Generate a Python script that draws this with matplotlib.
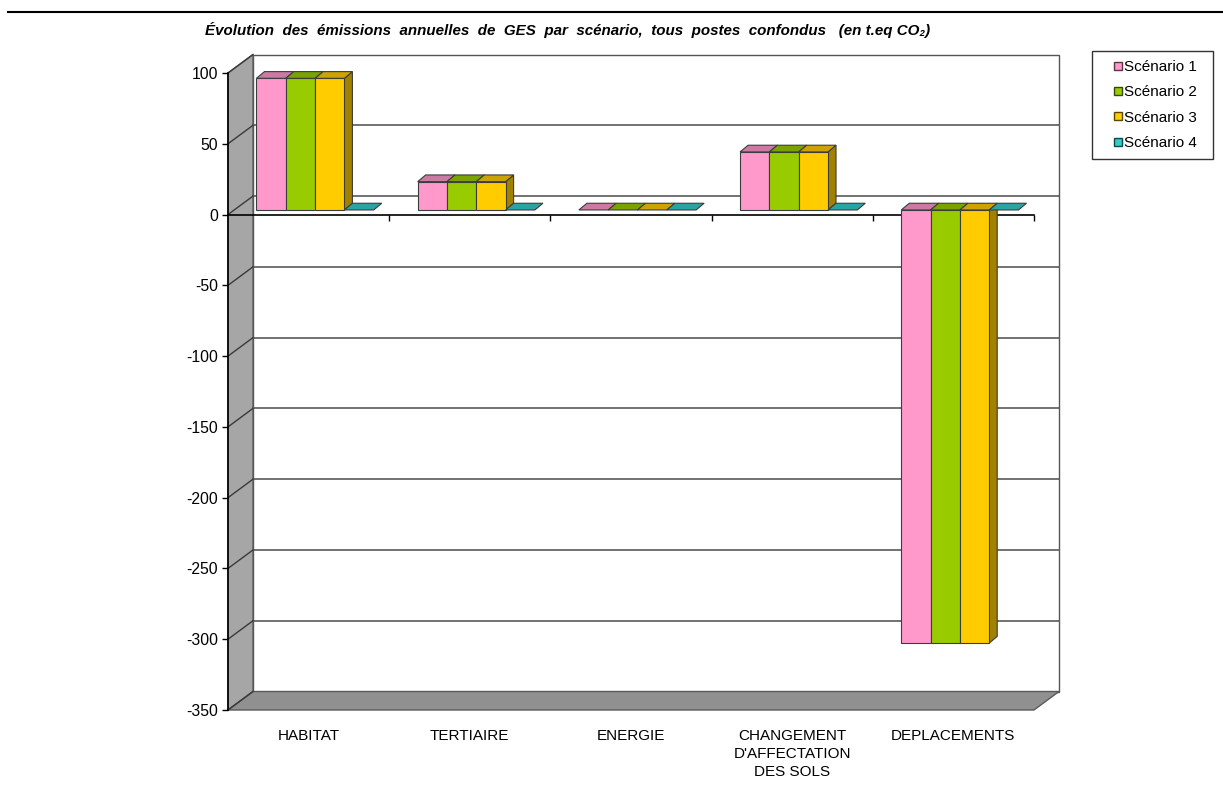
import numpy as np
import matplotlib
matplotlib.use("Agg")
import matplotlib.pyplot as plt
from matplotlib.patches import Polygon
from matplotlib.lines import Line2D
from matplotlib.transforms import IdentityTransform, offset_copy
from matplotlib.colors import to_rgb

# ---- data -------------------------------------------------------------
categories = ["HABITAT", "TERTIAIRE", "ENERGIE",
              "CHANGEMENT\nD'AFFECTATION\nDES SOLS", "DEPLACEMENTS"]
series_names = ["Scénario 1", "Scénario 2", "Scénario 3", "Scénario 4"]
scenario_1 = [93, 20, 0, 41, -306]
scenario_2 = [93, 20, 0, 41, -306]
scenario_3 = [93, 20, 0, 41, -306]
scenario_4 = [0, 0, 0, 0, 0]
y_ticks = [100, 50, 0, -50, -100, -150, -200, -250, -300, -350]
title = ("Évolution  des  émissions  annuelles  de  GES  par  scénario,  "
         "tous  postes  confondus   (en t.eq CO₂)")

series = [scenario_1, scenario_2, scenario_3, scenario_4]
colors = ["#FF99CC", "#99CC00", "#FFCC00", "#33CCCC"]

plt.rcParams["font.family"] = ["Liberation Sans", "DejaVu Sans"]
FS = 11

# ---- figure & axes ----------------------------------------------------
W, H = 1223, 796
fig = plt.figure(figsize=(W / 100, H / 100), dpi=100)
fig.patch.set_facecolor("white")
ax = fig.add_axes([228 / W, (H - 710) / H, 806 / W, 637 / H])
ax.set_xlim(0, len(categories))
ax.set_ylim(min(y_ticks), max(y_ticks))
ax.autoscale(False)
ax.patch.set_visible(False)

# oblique depth vectors (display pixels, y up)
WALL = np.array([25.0, 18.5])
BAR_FRONT = np.array([6.5, 4.6])
BAR_DEPTH = np.array([8.0, 6.7])


def px(x, v, shift=(0.0, 0.0)):
    return ax.transData.transform((x, v)) + np.asarray(shift)


def face(pts, fc, ec, lw=0.8, z=3):
    ax.add_patch(Polygon(np.array(pts), closed=True, facecolor=fc,
                         edgecolor=ec, linewidth=lw,
                         transform=IdentityTransform(), clip_on=False,
                         zorder=z))


def segment(p, q, color, lw=1.0, z=1.2):
    ax.add_line(Line2D([p[0], q[0]], [p[1], q[1]], color=color, lw=lw,
                       transform=IdentityTransform(), clip_on=False,
                       zorder=z))


def shade(c, f):
    return tuple(np.array(to_rgb(c)) * f)


top, bottom = max(y_ticks), min(y_ticks)
ncat = len(categories)

# back wall
face([px(0, top, WALL), px(ncat, top, WALL),
      px(ncat, bottom, WALL), px(0, bottom, WALL)],
     "white", "#555555", lw=1.0, z=1)
# gridlines on the back wall
for t in y_ticks[1:-1]:
    segment(px(0, t, WALL), px(ncat, t, WALL), "#5a5a5a", lw=1.2)
# side wall
face([px(0, top), px(0, top, WALL), px(0, bottom, WALL), px(0, bottom)],
     "#a6a6a6", "#5a5a5a", lw=1.0, z=1.1)
# floor
face([px(0, bottom), px(0, bottom, WALL),
      px(ncat, bottom, WALL), px(ncat, bottom)],
     "#909090", "#5a5a5a", lw=1.0, z=1.1)
# diagonals across the side wall
for t in y_ticks:
    segment(px(0, t), px(0, t, WALL), "#3a3a3a", lw=1.0, z=1.3)

# bars
bar_w = 1 / 5.5
for j, (vals, c) in enumerate(zip(series, colors)):
    for i, v in enumerate(vals):
        x0 = i + 0.75 * bar_w + j * bar_w
        x1 = x0 + bar_w
        vt = max(v, 0)
        back = BAR_FRONT + BAR_DEPTH
        if v != 0:
            face([px(x1, 0, BAR_FRONT), px(x1, v, BAR_FRONT),
                  px(x1, v, back), px(x1, 0, back)],
                 shade(c, 0.63), "#3c3c3c", z=3 + j * 0.1)
            face([px(x0, 0, BAR_FRONT), px(x1, 0, BAR_FRONT),
                  px(x1, v, BAR_FRONT), px(x0, v, BAR_FRONT)],
                 c, "#3c3c3c", z=3.02 + j * 0.1)
        face([px(x0, vt, BAR_FRONT), px(x1, vt, BAR_FRONT),
              px(x1, vt, back), px(x0, vt, back)],
             shade(c, 0.8), "#3c3c3c", z=3.04 + j * 0.1)

# axes styling
for s in ("top", "right"):
    ax.spines[s].set_visible(False)
ax.spines["bottom"].set_position(("data", 0))
ax.spines["bottom"].set_linewidth(1.2)
ax.spines["left"].set_linewidth(1.2)
ax.set_xticks(range(1, ncat + 1))
ax.set_xticklabels([])
ax.tick_params(axis="x", direction="out", length=4.5, width=1.0)
ax.set_yticks(y_ticks)
ax.set_yticklabels([str(t) for t in y_ticks])
ax.tick_params(axis="y", direction="out", length=4, width=1.0, pad=3,
               labelsize=11.3)

label_tr = offset_copy(ax.transData, fig=fig, y=-19, units="dots")
for i, name in enumerate(categories):
    ax.text(i + 0.5, bottom, name, ha="center", va="top", fontsize=FS,
            linespacing=1.37, transform=label_tr)

# title & top rule
fig.text(568 / W, 1 - 30 / H, title, ha="center", va="center",
         fontsize=10.9, fontweight="bold", fontstyle="italic")
fig.add_artist(Line2D([8 / W, 1.0], [1 - 12 / H] * 2,
                      transform=fig.transFigure, color="black", lw=1.5))

# legend
handles = [Line2D([], [], marker="s", ls="none", markersize=5.2,
                  markerfacecolor=c, markeredgecolor=shade(c, 0.35),
                  markeredgewidth=1.0) for c in colors]
leg = fig.legend(handles, series_names, loc="upper left",
                 bbox_to_anchor=(1092 / W, 1 - 155 / H, 121 / W, 104 / H),
                 mode="expand", frameon=True,
                 fancybox=False, edgecolor="black", fontsize=FS,
                 handlelength=2.2, handletextpad=-0.7, labelspacing=0.735,
                 borderpad=0.6, borderaxespad=0.0)
leg.get_frame().set_linewidth(1.0)

fig.savefig("out.png", dpi=100, facecolor="white")
